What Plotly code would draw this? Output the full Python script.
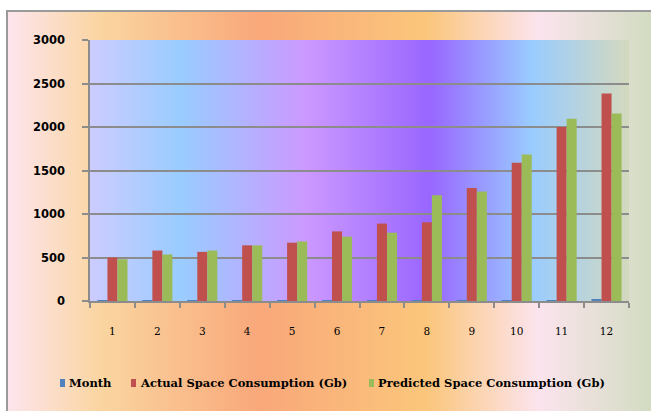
import base64
import plotly.graph_objects as go

# ---- data ----
months = ["1", "2", "3", "4", "5", "6", "7", "8", "9", "10", "11", "12"]
month_values = [1, 2, 3, 4, 5, 6, 7, 8, 9, 10, 11, 12]
actual_gb = [500, 580, 565, 640, 670, 800, 890, 905, 1300, 1590, 2000, 2385]
predicted_gb = [480, 535, 580, 640, 685, 740, 785, 1215, 1260, 1685, 2095, 2155]

series_names = ["Month", "Actual Space Consumption (Gb)", "Predicted Space Consumption (Gb)"]
series_colors = ["#4F81BD", "#C0504D", "#9BBB59"]

# ---- canvas geometry (pixels) ----
W, H = 651, 411
ML, MR, MT, MB = 90, 22, 40, 110
PW, PH = W - ML - MR, H - MT - MB


def px_to_paper_x(px):
    return (px - ML) / PW


def px_to_paper_y(py):
    return (H - MB - py) / PH


def gradient_uri(stops):
    """Horizontal linear gradient as an SVG data URI."""
    stop_xml = "".join(f'<stop offset="{o}" stop-color="{c}"/>' for o, c in stops)
    svg = (
        '<svg xmlns="http://www.w3.org/2000/svg" width="200" height="100" '
        'viewBox="0 0 200 100" preserveAspectRatio="none">'
        '<defs><linearGradient id="g" x1="0" y1="0" x2="1" y2="0">'
        f"{stop_xml}</linearGradient></defs>"
        '<rect x="0" y="0" width="200" height="100" fill="url(#g)"/></svg>'
    )
    return "data:image/svg+xml;base64," + base64.b64encode(svg.encode()).decode()


chart_stops = [
    (0.0, "#FDE5EE"), (0.144, "#FAD5A0"), (0.385, "#F9A87A"),
    (0.641, "#FBC67B"), (0.812, "#FCE4EE"), (1.0, "#CFDBBE"),
]
plot_stops = [
    (0.0, "#CCCCFF"), (0.17, "#99CCFF"), (0.40, "#CC99FF"),
    (0.63, "#9966FF"), (0.82, "#99CCFF"), (1.0, "#D4D9BE"),
]

fig = go.Figure()
for name, vals, col in zip(series_names, [month_values, actual_gb, predicted_gb], series_colors):
    fig.add_trace(go.Bar(
        x=months, y=vals, name=name, showlegend=False,
        marker=dict(color=col, line=dict(width=0)),
    ))

# chart-area border origin
BX, BY = 7, 11

shapes = [
    dict(type="rect", xref="paper", yref="paper",
         x0=px_to_paper_x(BX), y0=px_to_paper_y(H + 20),
         x1=px_to_paper_x(W + 20), y1=px_to_paper_y(BY),
         line=dict(color="#9A9A9A", width=2), fillcolor="rgba(0,0,0,0)",
         layer="above"),
]
annotations = []

# legend row along the bottom: swatch + label per series
legend_y = 383
legend_swatch_x = [60, 131, 369]
for name, col, sx in zip(series_names, series_colors, legend_swatch_x):
    shapes.append(dict(
        type="rect", xref="paper", yref="paper",
        x0=px_to_paper_x(sx), x1=px_to_paper_x(sx + 5),
        y0=px_to_paper_y(legend_y + 4), y1=px_to_paper_y(legend_y - 4),
        line=dict(width=0), fillcolor=col, layer="above",
    ))
    annotations.append(dict(
        text=name, xref="paper", yref="paper",
        x=px_to_paper_x(sx + 7), y=px_to_paper_y(legend_y),
        xanchor="left", yanchor="middle", showarrow=False,
        font=dict(family="DejaVu Serif", size=11.5, color="#000000", weight="bold"),
    ))

fig.update_layout(
    width=W, height=H,
    margin=dict(l=ML, r=MR, t=MT, b=MB),
    paper_bgcolor="white",
    plot_bgcolor="rgba(0,0,0,0)",
    barmode="group",
    bargap=0.33,
    bargroupgap=0.0,
    showlegend=False,
    images=[
        dict(source=gradient_uri(chart_stops), xref="paper", yref="paper",
             x=px_to_paper_x(BX), y=px_to_paper_y(BY),
             sizex=(W + 10 - BX) / PW, sizey=(H + 10 - BY) / PH,
             xanchor="left", yanchor="top", sizing="stretch", layer="below"),
        dict(source=gradient_uri(plot_stops), xref="paper", yref="paper",
             x=0, y=1, sizex=1, sizey=1,
             xanchor="left", yanchor="top", sizing="stretch", layer="below"),
    ],
    shapes=shapes,
    annotations=annotations,
    xaxis=dict(
        type="category",
        showline=True, linecolor="#8C8C8C", linewidth=1.5,
        ticks="outside", tickson="boundaries", ticklen=5,
        tickcolor="#8C8C8C", tickwidth=1.5,
        showgrid=False,
        tickfont=dict(family="DejaVu Serif", size=10.5, color="#000000"),
        ticklabelstandoff=20,
    ),
    yaxis=dict(
        range=[0, 3000], dtick=500,
        showline=True, linecolor="#8C8C8C", linewidth=1.5,
        ticks="outside", ticklen=6, tickcolor="#8C8C8C", tickwidth=1.5,
        showgrid=True, gridcolor="#8C8C8C", gridwidth=1.5,
        zeroline=False,
        tickfont=dict(family="DejaVu Sans", size=11.5, color="#000000", weight="bold"),
        ticklabelstandoff=15,
    ),
)

fig.write_html("out.html")
